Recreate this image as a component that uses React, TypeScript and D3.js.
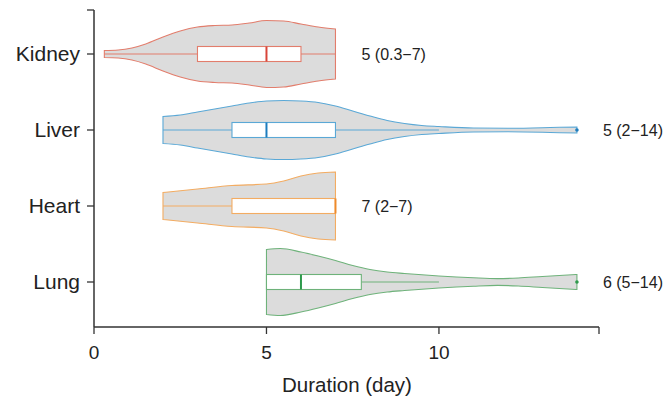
import React from "react";
import * as d3 from "d3";

const categories = ["Kidney", "Liver", "Heart", "Lung"];
const q1 = [3, 4, 4, 5];
const medians = [5, 5, 7, 6];
const q3 = [6, 7, 7, 7.75];
const whiskerLo = [0.3, 2, 2, 5];
const whiskerHi = [7, 10, 4, 10];
const outliers: number[][] = [[], [14], [], [14]];
const summaryLabels = ["5 (0.3\u22127)", "5 (2\u221214)", "7 (2\u22127)", "6 (5\u221214)"];
const dataMax = [7, 14, 7, 14];
const xTicks = [0, 5, 10];

// density profiles: [duration, relative density]
const kidneyDensity: [number, number][] = [
  [0.3, 3.5], [0.7, 4], [1.1, 6], [1.5, 10], [2.0, 17], [2.5, 23], [3.0, 27], [3.5, 28.5],
  [4.0, 29], [4.5, 31], [5.0, 33.5], [5.5, 33], [6.0, 30], [6.5, 27], [7, 25],
];
const liverDensity: [number, number][] = [
  [2, 13.5], [2.5, 15], [3, 18], [3.5, 21], [4, 24], [4.5, 27], [5, 29], [5.5, 29.5], [6, 29],
  [6.5, 27.5], [7, 24], [7.5, 19], [8, 14], [8.5, 9.5], [9, 6.5], [9.5, 4.5], [10, 3.5],
  [11, 2], [12, 1.8], [13, 2.3], [13.5, 2.8], [14, 3],
];
const heartDensity: [number, number][] = [
  [2, 13.5], [3, 17], [4, 20.5], [5, 22], [5.5, 25], [6, 30], [6.5, 33], [7, 34],
];
const lungDensity: [number, number][] = [
  [5, 32.5], [5.4, 33.5], [6, 30], [6.5, 26], [7, 21.5], [7.5, 16.5], [8, 12.5], [8.5, 10],
  [9, 8.5], [10, 6], [11, 4.2], [11.7, 3.4], [12.3, 4], [13, 5.5], [14, 7.5],
];
const densities = [kidneyDensity, liverDensity, heartDensity, lungDensity];

const strokeColors = ["#E27D6C", "#5AA8D6", "#F3AC62", "#6EB27A"];
const medianColors = ["#D8453A", "#1E7DBE", "#EE8A2A", "#2E9A4C"];

export default function App() {
  const W = 667, H = 402;
  const x = d3.scaleLinear().domain([0, 14.64]).range([94, 599]);
  const y = d3.scalePoint<string>().domain(categories).range([54, 282]);
  const w = d3.scaleLinear().domain([0, 34]).range([0, 34]);
  const font = "Liberation Sans, Arial, Helvetica, sans-serif";
  const axisY = 327;
  const boxHalf = 7.5;

  return (
    <svg width={W} height={H} style={{ position: "absolute", left: 0, top: 0 }} fontFamily={font}>
      <rect width={W} height={H} fill="#fff" />
      {categories.map((c, i) => {
        const cy = y(c)!;
        const area = d3
          .area<[number, number]>()
          .x((d) => x(d[0]))
          .y0((d) => cy - w(d[1]))
          .y1((d) => cy + w(d[1]))
          .curve(d3.curveMonotoneX);
        const col = strokeColors[i];
        return (
          <g key={c}>
            <path d={area(densities[i]) || ""} fill="#DCDCDC" stroke={col} strokeWidth={1.1} />
            <line x1={x(whiskerLo[i])} x2={x(q1[i])} y1={cy} y2={cy} stroke={col} strokeWidth={1.1} />
            <line x1={x(q3[i])} x2={x(whiskerHi[i])} y1={cy} y2={cy} stroke={col} strokeWidth={1.1} />
            <rect
              x={x(q1[i])}
              y={cy - boxHalf}
              width={x(q3[i]) - x(q1[i])}
              height={boxHalf * 2}
              fill="#fff"
              stroke={col}
              strokeWidth={1.1}
            />
            <line
              x1={x(medians[i])}
              x2={x(medians[i])}
              y1={cy - boxHalf}
              y2={cy + boxHalf}
              stroke={medianColors[i]}
              strokeWidth={2}
            />
            {outliers[i].map((o, j) => (
              <circle key={j} cx={x(o)} cy={cy} r={1.8} fill={medianColors[i]} />
            ))}
            <text x={x(dataMax[i]) + 26} y={cy} dy="0.35em" fontSize={16} fill="#222">
              {summaryLabels[i]}
            </text>
            <line x1={87} x2={94} y1={cy} y2={cy} stroke="#333" strokeWidth={1.3} />
            <text x={80} y={cy} dy="0.35em" textAnchor="end" fontSize={21} fill="#222">
              {c}
            </text>
          </g>
        );
      })}
      <line x1={94} x2={94} y1={10} y2={axisY} stroke="#333" strokeWidth={1.5} />
      <line x1={87} x2={94} y1={10} y2={10} stroke="#333" strokeWidth={1.3} />
      <line x1={94} x2={599} y1={axisY} y2={axisY} stroke="#333" strokeWidth={1.5} />
      {xTicks.map((t) => (
        <g key={t}>
          <line x1={x(t)} x2={x(t)} y1={axisY} y2={axisY + 7} stroke="#333" strokeWidth={1.3} />
          <text x={x(t)} y={352} dy="0.35em" textAnchor="middle" fontSize={19} fill="#222">
            {t}
          </text>
        </g>
      ))}
      <line x1={599} x2={599} y1={axisY} y2={axisY + 7} stroke="#333" strokeWidth={1.3} />
      <text x={347} y={385} dy="0.35em" textAnchor="middle" fontSize={20.5} fill="#222">
        Duration (day)
      </text>
    </svg>
  );
}
